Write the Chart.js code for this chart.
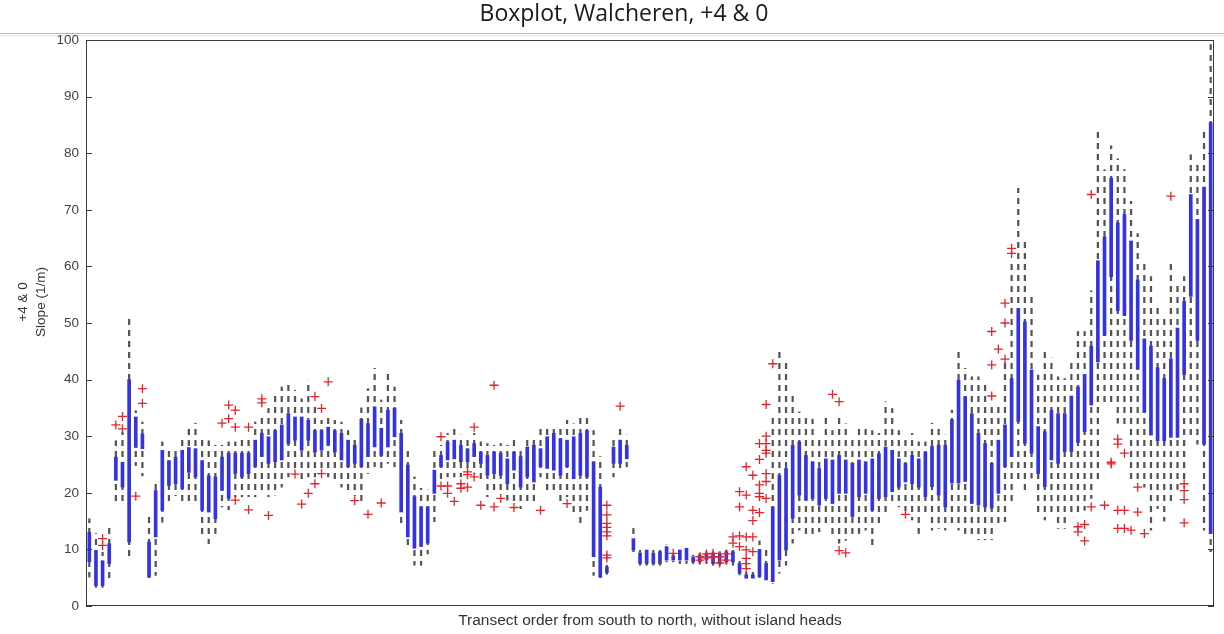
<!DOCTYPE html>
<html>
<head>
<meta charset="utf-8">
<script src="https://cdn.jsdelivr.net/npm/chart.js@4.4.0/dist/chart.umd.min.js"></script>
<style>
  html, body { margin: 0; padding: 0; background: #fff; }
  #wrap { width: 1224px; height: 634px; }
</style>
</head>
<body>
<div id="wrap"><canvas id="box-chart" width="1224" height="634"></canvas></div>
<script>
// one entry per transect, south -> north
const lowWhisker = [
  5.1, 3.3, 3.3, 4.2, 18.6, 18, 8, 24.8, 23, 4.8, 5.4, 14.8, 18.4, 19.5, 18, 18.4, 18.4, 11.9, 11, 12.8,
  17.5, 17, 19.3, 19.3, 19.3, 19.3, 20.5, 19.3, 19.6, 21, 22.8, 24, 22.2, 22.8, 22.8, 24, 22.8, 22.2, 21, 19.9,
  19.5, 18.1, 23.4, 24.6, 24, 25.2, 24.6, 14.6, 10.5, 7.2, 7.2, 9.2, 14.9, 22, 22.8, 22.8, 22.8, 24, 23.4, 21.6,
  19.3, 20.5, 20, 18.7, 18.5, 17.2, 18.1, 18.1, 22.8, 20.5, 20.2, 18.1, 19.3, 16.4, 14.6, 16.9, 5.4, 4.8, 5.6, 22.8,
  23.7, 24.6, 9.6, 7.2, 7.2, 7.2, 7.2, 7.8, 7.8, 7.5, 7.5, 7.5, 7.5, 7.5, 7.2, 7.2, 7.5, 7.2, 5.5, 4.6,
  4.6, 4.9, 4.3, 4, 5.8, 7.2, 11.1, 13.4, 12.8, 12.8, 13.1, 14, 12.2, 11.1, 11.6, 12.8, 12.8, 13.4, 10.5, 14,
  16, 18.1, 17.5, 16.9, 15.2, 12.8, 16, 13.4, 13.7, 13.4, 14.6, 13.4, 12.8, 12.8, 11.7, 11.7, 11.7, 14, 14.9, 18.1,
  21.7, 20.5, 22.6, 15.8, 15.2, 15.8, 13.7, 13.7, 15.9, 16, 16.9, 19, 21.9, 36.1, 36.1, 32.3, 31.4, 21.9, 22.5, 21,
  13.4, 17.2, 15, 18.5, 20.6, 22, 29.8, 28.6, 13.4, 9.6
];
const q1 = [
  7.8, 3.6, 3.6, 7.5, 22.2, 21, 11.3, 28, 27.8, 5.1, 12.2, 16.9, 21.3, 21.6, 20.7, 23.6, 22.8, 16.9, 16.6, 15.4,
  20.4, 19, 23.4, 22.8, 23.4, 24.6, 26.4, 25.2, 25.5, 25.8, 28.7, 29.3, 27.5, 29.3, 27.2, 27.5, 28.4, 27.2, 25.8, 24.6,
  25.2, 24.6, 26.4, 28.1, 26.6, 28.1, 29.9, 16.6, 12.2, 10.2, 10.5, 11.1, 19.9, 24.6, 25.8, 26, 25.5, 25.5, 26.4, 25.2,
  23.1, 23.4, 23.1, 21.6, 24, 21, 22.8, 21.9, 24.6, 24.3, 24, 23.1, 24.6, 22.5, 23.1, 22.8, 8.7, 5.1, 5.9, 25.2,
  25.2, 26, 9.9, 7.5, 7.5, 7.5, 7.5, 8.1, 8.1, 8.1, 8.1, 7.8, 7.8, 8.1, 7.5, 7.5, 7.8, 7.8, 5.8, 4.9,
  4.9, 5.2, 4.6, 4.3, 8.1, 9.9, 15.5, 19.6, 18.7, 19, 17.8, 19, 18.1, 19.9, 19.9, 15.8, 19.3, 19.9, 16.9, 19,
  19.3, 20.2, 21, 21.9, 21.6, 21, 19.3, 21.1, 19.6, 17.5, 21.7, 21.7, 22, 18.1, 17.8, 17.5, 17.3, 19.9, 24.6, 26.4,
  32.6, 28.7, 27, 23.4, 21.1, 25.8, 25.2, 27.3, 27.3, 28.9, 30.8, 35.5, 43.1, 47.8, 58.2, 52.2, 51.3, 46.9, 41.8, 34.2,
  30.2, 29.2, 29.2, 29.8, 29.8, 40.9, 54.7, 46.9, 28.6, 12.8
];
const q3 = [
  13, 9.8, 8, 11, 26.3, 25.4, 40, 33.4, 30.4, 11.3, 20.4, 27.5, 25.7, 26.3, 27.5, 28, 27.8, 25.7, 23, 22.8,
  26.3, 27, 27, 27, 27, 29.3, 30.5, 29.9, 31, 32, 34, 33.4, 33.4, 32.8, 31, 31, 31.6, 31, 30.5, 29.3,
  28.4, 33, 32.2, 35.2, 31.4, 34.6, 34.9, 30.5, 24.9, 19.3, 17.5, 17.5, 24, 26.6, 29, 29.3, 28.4, 27.8, 28.7, 27.2,
  26.6, 27.2, 27, 26, 27.2, 26.4, 28.1, 28.4, 27.8, 29.9, 30.5, 29.6, 29.3, 29.9, 30.5, 31, 25.5, 21, 6.9, 28.1,
  29.3, 28.4, 11.9, 9.3, 9.9, 9.3, 9.6, 10.5, 8.9, 9.9, 10.2, 8.7, 9, 9.3, 9.3, 9.3, 9.6, 9.6, 7.5, 5.5,
  5.5, 10, 7.5, 17.5, 23.1, 24.3, 28.4, 29, 26.6, 25.5, 24.3, 26, 25.8, 26.6, 25.8, 25.2, 25.8, 25.5, 26, 26.9,
  28.1, 27.5, 26, 25.2, 26.6, 26, 27.2, 28.2, 28.4, 28.4, 32.9, 39.9, 37, 34, 30.5, 28.7, 25.2, 29.3, 32, 40.2,
  52.6, 50.2, 41.7, 31.7, 30.8, 34.6, 34, 34, 37.1, 38.7, 40.9, 45.9, 61, 65.2, 75.6, 67.7, 69.2, 64.5, 57.6, 47.2,
  45.9, 42.1, 40.2, 43.7, 49.1, 53.8, 72.7, 68.3, 74, 85.4
];
const highWhisker = [
  15.4, 12.8, 9.5, 14, 29.2, 30.7, 51, 34.5, 32.5, 16, 22.2, 29, 27.5, 28, 30.1, 31.3, 32.3, 30.1, 29.2, 28.4,
  28.4, 29, 29, 29.3, 29.5, 32.5, 34, 34.9, 37.2, 38.7, 39, 38.1, 36.6, 39.9, 35.2, 32.8, 33.4, 32.8, 32.5, 31,
  29.9, 35, 38.4, 42, 36.4, 41, 38.7, 32.8, 28.1, 22.8, 20.8, 20.5, 27.8, 28.4, 30.5, 31.9, 30.2, 29.9, 30.5, 29,
  28.7, 28.4, 28.7, 28.4, 29.9, 28.1, 29.9, 29.9, 31.4, 31.4, 31.6, 31.6, 32.8, 32.2, 33.7, 34, 31, 26.4, 7.2, 30,
  31.9, 30.2, 13.7, 9.9, 10.2, 9.9, 10.2, 10.8, 9.1, 10.2, 10.5, 9, 9.3, 9.6, 9.6, 9.6, 9.9, 10.2, 8.1, 6,
  6, 11.5, 10, 33.4, 44.9, 43.5, 37.5, 34.3, 34, 33, 29.9, 33.7, 31, 33.7, 32.2, 29.9, 31.6, 32, 31, 30.5,
  36.1, 34.9, 31, 29.9, 30.5, 29, 29, 32.3, 32, 30.2, 34.6, 45.2, 42, 40.5, 40.5, 39, 35.5, 35.5, 42.9, 60.5,
  73.8, 64.4, 54.7, 40.8, 45.2, 43.8, 40.5, 40.2, 43.4, 48.5, 48.5, 55.7, 84.4, 77.1, 81.3, 79, 77.1, 71.5, 65.8, 60.4,
  58.2, 53.2, 51, 60.4, 57, 58.2, 79.7, 78.4, 83.8, 99.2
];
// [transect index, value]
const outliers = [
  [2, 11.9], [2, 10.7], [4, 32], [5, 33.5], [5, 31.3], [7, 19.4], [8, 38.4], [8, 35.8],
  [20, 32.3], [21, 35.5], [21, 33.1], [22, 34.6], [22, 31.6], [22, 18.7], [24, 31.6], [24, 17],
  [26, 36.6], [26, 35.9], [27, 16], [31, 23.3], [32, 18], [33, 19.9], [34, 37], [34, 21.6],
  [35, 34.9], [35, 23.4], [36, 39.6], [40, 18.6], [42, 16.2], [44, 18.2], [53, 29.9], [53, 21.2],
  [54, 21.2], [54, 19.9], [55, 18.5], [56, 21.6], [56, 20.8], [57, 23.7], [57, 23.2], [57, 21],
  [58, 31.6], [58, 22.8], [59, 17.8], [61, 39], [61, 17.5], [62, 19], [64, 17.4], [68, 16.9], [72, 18.1],
  [78, 17.8], [78, 16.1], [78, 14.6], [78, 13.9], [78, 13.1], [78, 12.4], [78, 9], [78, 8.5], [80, 35.3],
  [88, 9.3], [92, 8.1], [92, 8.7], [93, 8.5], [93, 9.2], [94, 9.3], [94, 8.7], [95, 8.7], [95, 7.6],
  [96, 9.2], [96, 8.1], [97, 12.2], [97, 11.1], [98, 20.2], [98, 17.5], [98, 12.4], [98, 10.5],
  [99, 24.6], [99, 19.6], [99, 12.2], [99, 9.9], [99, 8.4], [99, 7.5], [99, 6.6],
  [100, 23.1], [100, 16.9], [100, 15.1], [100, 12.2], [100, 9.6],
  [101, 28.7], [101, 25.9], [101, 21.4], [101, 19.9], [101, 19.3], [101, 16.5],
  [102, 35.6], [102, 30], [102, 28.7], [102, 27.5], [102, 27], [102, 23.4], [102, 22], [102, 19],
  [103, 42.8], [112, 37.4], [113, 36.1], [113, 9.8], [114, 9.4], [123, 16.2],
  [136, 37.1], [136, 42.6], [136, 48.5], [137, 45.4], [138, 53.5], [138, 50], [138, 43.6], [139, 63.2], [139, 62.3],
  [149, 14], [149, 13.1], [150, 14.4], [150, 11.5], [151, 72.7], [151, 17.5], [153, 17.8], [154, 25.4], [154, 25.1],
  [155, 29.5], [155, 28.6], [155, 16.9], [155, 13.7], [156, 27], [156, 16.9], [156, 13.7], [157, 13.4],
  [158, 21], [158, 16.6], [159, 12.8], [163, 72.4], [165, 21.6], [165, 20.4], [165, 18.8], [165, 14.7]
];
const yTicks = [0, 10, 20, 30, 40, 50, 60, 70, 80, 90, 100];
const transects = lowWhisker.map((v, i) => String(i + 1));

const boxBlue = '#3333e4';
const whiskerGrey = '#555555';
const outlierRed = '#e3242b';

// dashed look for the whiskers: a repeating vertical stripe
function dashPattern(color) {
    const c = document.createElement('canvas');
    c.width = 2;
    c.height = 11;
    const g = c.getContext('2d');
    g.fillStyle = color;
    g.fillRect(0, 0, 2, 6);
    return g.createPattern(c, 'repeat');
}

const framePlugin = {
    id: 'frame',
    beforeDraw(chart) {
        const ctx = chart.ctx;
        ctx.save();
        ctx.fillStyle = '#1a1a1a';
        ctx.font = '23px "Open Sans", "Liberation Sans", sans-serif';
        ctx.textAlign = 'center';
        ctx.textBaseline = 'middle';
        ctx.fillText('Boxplot, Walcheren, +4 & 0', 624, 14);
        ctx.fillStyle = '#b4b4b4';
        ctx.fillRect(0, 33, 1224, 1);
        ctx.fillStyle = '#e2e2e2';
        ctx.fillRect(0, 35, 1224, 1);
        // y title, two lines
        ctx.translate(0, 302);
        ctx.rotate(-Math.PI / 2);
        ctx.fillStyle = '#333';
        ctx.font = '13.5px "Liberation Sans", Arial, sans-serif';
        ctx.fillText('+4 & 0', 0, 23);
        ctx.fillText('Slope (1/m)', 0, 41);
        ctx.restore();
    },
    afterDatasetsDraw(chart) {
        const ctx = chart.ctx;
        const a = chart.chartArea;
        const y = chart.scales.y;
        ctx.save();
        ctx.strokeStyle = '#3a3a3a';
        ctx.lineWidth = 1;
        ctx.strokeRect(a.left + 0.5, a.top + 0.5, a.right - a.left - 1, a.bottom - a.top - 1);
        ctx.beginPath();
        yTicks.forEach(function (t) {
            const py = Math.round(y.getPixelForValue(t)) + 0.5;
            ctx.moveTo(a.left, py);
            ctx.lineTo(a.left + 6, py);
            ctx.moveTo(a.right - 6, py);
            ctx.lineTo(a.right, py);
        });
        ctx.stroke();
        ctx.restore();
    }
};

new Chart(document.getElementById('box-chart'), {
    type: 'bar',
    data: {
        labels: transects,
        datasets: [
            {
                type: 'line',
                label: 'Outliers',
                data: outliers.map(o => ({ x: transects[o[0]], y: o[1] })),
                showLine: false,
                pointStyle: 'cross',
                pointRadius: 4.5,
                pointBorderWidth: 1.3,
                pointBorderColor: outlierRed,
                borderColor: outlierRed,
            },
            {
                label: 'Box',
                data: q1.map((v, i) => [v, q3[i]]),
                backgroundColor: boxBlue,
                barThickness: 3,
                grouped: false,
            },
            {
                label: 'Whisker',
                data: lowWhisker.map((v, i) => [v, highWhisker[i]]),
                backgroundColor: dashPattern(whiskerGrey),
                barThickness: 1.6,
                grouped: false,
            },
        ],
    },
    options: {
        responsive: false,
        animation: false,
        layout: { padding: { top: 40, right: 10, left: 0, bottom: 0 } },
        plugins: {
            legend: { display: false },
            tooltip: { enabled: false },
            title: { display: false },
        },
        scales: {
            x: {
                grid: { display: false, drawTicks: false },
                border: { display: false },
                ticks: { display: false },
                title: {
                    display: true,
                    text: 'Transect order from south to north, without island heads',
                    color: '#333',
                    font: { family: '"Liberation Sans", Arial, sans-serif', size: 15.5 },
                    padding: { top: 0, bottom: 4 },
                },
                afterFit(scale) { scale.height = 28; },
            },
            y: {
                min: 0,
                max: 100,
                grid: { display: false, drawTicks: false },
                border: { display: false },
                ticks: {
                    stepSize: 10,
                    padding: 7,
                    color: '#444',
                    font: { family: '"Liberation Sans", Arial, sans-serif', size: 13.5 },
                },
                afterFit(scale) { scale.width = 86; },
            },
        },
    },
    plugins: [framePlugin],
});
</script>
</body>
</html>
